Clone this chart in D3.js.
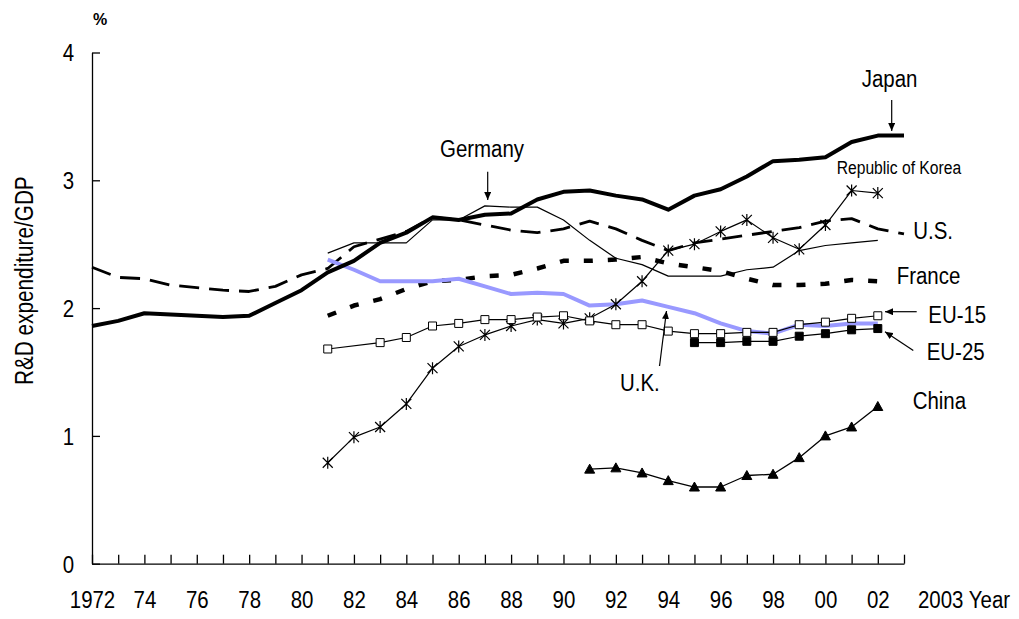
<!DOCTYPE html>
<html>
<head>
<meta charset="utf-8">
<script src="https://cdn.jsdelivr.net/npm/d3@7"></script>
<style>
  body { margin: 0; background: #fff; }
  svg { display: block; }
  text { font-family: "Liberation Sans", Arial, sans-serif; fill: #000; }
</style>
</head>
<body>
<svg width="1019" height="619"></svg>
<script>

// categories
var years = d3.range(1972, 2004);
var xLabels = ["1972", "74", "76", "78", "80", "82", "84", "86", "88", "90", "92", "94", "96", "98", "00", "02"];
var yTicks = [0, 1, 2, 3, 4];

// R&D expenditure / GDP (%)
var japan = [1.86, 1.90, 1.96, 1.95, 1.94, 1.93, 1.94, 2.04, 2.14, 2.28, 2.37, 2.51, 2.59, 2.71, 2.69, 2.73,
             2.74, 2.85, 2.91, 2.92, 2.88, 2.85, 2.77, 2.88, 2.93, 3.03, 3.15, 3.16, 3.18, 3.30, 3.35, 3.35];
var us = [2.32, 2.24, 2.23, 2.18, 2.16, 2.14, 2.13, 2.17, 2.26, 2.31, 2.48, 2.54, 2.60, 2.71, 2.69, 2.65,
          2.61, 2.59, 2.62, 2.68, 2.62, 2.53, 2.45, 2.51, 2.54, 2.57, 2.60, 2.63, 2.68, 2.70, 2.62, 2.58];
// from 1981
var germany = [2.43, 2.51, 2.51, 2.51, 2.69, 2.69, 2.80, 2.79, 2.79, 2.69, 2.53, 2.39, 2.34, 2.25, 2.25,
               2.25, 2.30, 2.32, 2.45, 2.49, 2.51, 2.53];
var france = [1.94, 2.02, 2.07, 2.15, 2.21, 2.22, 2.25, 2.26, 2.31, 2.37, 2.37, 2.38, 2.40, 2.35, 2.32,
              2.29, 2.23, 2.18, 2.18, 2.19, 2.22, 2.21];
var uk = [2.38, 2.30, 2.21, 2.21, 2.21, 2.23, 2.17, 2.11, 2.12, 2.11, 2.02, 2.03, 2.06, 2.01, 1.96,
          1.88, 1.82, 1.80, 1.87, 1.86, 1.88, 1.88];
var eu15 = [1.68, null, 1.73, 1.77, 1.86, 1.88, 1.91, 1.91, 1.93, 1.94, 1.90, 1.87, 1.87, 1.82, 1.80,
            1.80, 1.81, 1.81, 1.87, 1.89, 1.92, 1.94];
var korea = [0.79, 0.99, 1.07, 1.25, 1.53, 1.70, 1.79, 1.86, 1.91, 1.88, 1.92, 2.03, 2.21, 2.45, 2.50,
             2.60, 2.69, 2.55, 2.46, 2.65, 2.92, 2.90];
// from 1995
var eu25 = [1.73, 1.73, 1.74, 1.74, 1.78, 1.80, 1.83, 1.84];
// from 1991
var china = [0.74, 0.75, 0.71, 0.65, 0.60, 0.60, 0.69, 0.70, 0.83, 1.00, 1.07, 1.23];

var svg = d3.select("svg");

var x = d3.scaleLinear().domain([1972, 2003]).range([92, 904]);
var y = d3.scaleLinear().domain([0, 4]).range([563.7, 52.5]);

// arrow head
svg.append("defs").append("marker")
    .attr("id", "head")
    .attr("markerUnits", "userSpaceOnUse")
    .attr("markerWidth", 9)
    .attr("markerHeight", 7)
    .attr("refX", 8)
    .attr("refY", 3.5)
    .attr("orient", "auto")
  .append("path")
    .attr("d", "M0,0 L8,3.5 L0,7 Z")
    .attr("fill", "#000");

// helper for the narrow looking labels
function label(px, py, str, size, anchor) {
  return svg.append("text")
    .attr("transform", "translate(" + px + "," + py + ") scale(0.87,1)")
    .attr("font-size", size)
    .attr("text-anchor", anchor || "start")
    .text(str);
}

// x axis
var xAxis = svg.append("g")
    .attr("transform", "translate(0," + y(0) + ")")
    .call(d3.axisBottom(x)
      .tickValues(years)
      .tickSize(-9)
      .tickSizeOuter(0)
      .tickFormat(function(d) {
        var i = (d - 1972) / 2;
        return (d % 2 == 0 && xLabels[i]) ? xLabels[i] : "";
      }));

xAxis.selectAll("text")
    .attr("y", null)
    .attr("dy", null)
    .attr("font-size", 23.5)
    .attr("transform", "translate(0,44.5) scale(0.87,1)");

// y axis
var yAxis = svg.append("g")
    .attr("transform", "translate(" + x(1972) + ",0)")
    .call(d3.axisLeft(y)
      .tickValues(yTicks)
      .tickSize(-8)
      .tickSizeOuter(0)
      .tickFormat(d3.format("d")));

yAxis.selectAll("text")
    .attr("x", null)
    .attr("dy", null)
    .attr("font-size", 23.5)
    .attr("text-anchor", "end")
    .attr("transform", "translate(-18,8.4) scale(0.87,1)");

svg.selectAll(".domain, .tick line")
    .attr("stroke", "#000")
    .attr("stroke-width", 1.3);

// axis texts
label(918, 607.5, "2003 Year", 23.5);
svg.append("text")
    .attr("x", 93)
    .attr("y", 25)
    .attr("font-size", 16)
    .attr("font-weight", "bold")
    .text("%");
svg.append("text")
    .attr("transform", "translate(33,385) rotate(-90) scale(0.83,1)")
    .attr("font-size", 25)
    .text("R&D expenditure/GDP");

// series table
function points(values, from) {
  return values.map(function(v, i) { return {year: from + i, v: v}; })
    .filter(function(d) { return d.v != null; });
}

var series = [
  {name: "Germany", data: points(germany, 1981), color: "#000", width: 1.2, dash: null},
  {name: "U.S.", data: points(us, 1972), color: "#000", width: 2.8, dash: "20,10"},
  {name: "France", data: points(france, 1981), color: "#000", width: 4.5, dash: "9,15"},
  {name: "U.K.", data: points(uk, 1981), color: "#9999ff", width: 4, dash: null},
  {name: "Japan", data: points(japan, 1972), color: "#000", width: 4, dash: null},
  {name: "Republic of Korea", data: points(korea, 1981), color: "#000", width: 1.2, dash: null, marker: "star"},
  {name: "EU-15", data: points(eu15, 1981), color: "#000", width: 1.2, dash: null, marker: "open"},
  {name: "EU-25", data: points(eu25, 1995), color: "#000", width: 1.2, dash: null, marker: "filled"},
  {name: "China", data: points(china, 1991), color: "#000", width: 1.3, dash: null, marker: "triangle"}
];

var line = d3.line()
    .x(function(d) { return x(d.year); })
    .y(function(d) { return y(d.v); });

var markerPath = {
  star: "M-5,-5L5,5M-5,5L5,-5M0,-6L0,6",
  open: "M-4,-4H4V4H-4Z",
  filled: "M-4,-4H4V4H-4Z",
  triangle: "M0,-5L5,4H-5Z"
};

series.forEach(function(s) {
  svg.append("path")
    .datum(s.data)
    .attr("fill", "none")
    .attr("stroke", s.color)
    .attr("stroke-width", s.width)
    .attr("stroke-dasharray", s.dash)
    .attr("stroke-linejoin", "round")
    .attr("d", line);

  if (s.marker) {
    svg.selectAll(null)
      .data(s.data)
      .enter()
      .append("path")
        .attr("transform", function(d) { return "translate(" + x(d.year) + "," + y(d.v) + ")"; })
        .attr("d", markerPath[s.marker])
        .attr("fill", s.marker == "open" ? "#fff" : (s.marker == "star" ? "none" : "#000"))
        .attr("stroke", "#000")
        .attr("stroke-width", s.marker == "star" ? 1.2 : 1);
  }
});

// annotations
function arrow(x1, y1, x2, y2) {
  svg.append("line")
    .attr("x1", x1).attr("y1", y1)
    .attr("x2", x2).attr("y2", y2)
    .attr("stroke", "#000")
    .attr("stroke-width", 1.2)
    .attr("marker-end", "url(#head)");
}

label(861.7, 86.7, "Japan", 23.5);
arrow(891.7, 100, 891.7, 131);

label(440, 157.3, "Germany", 23.5);
arrow(487.7, 171.7, 487.7, 200);

label(836.7, 174, "Republic of Korea", 18);
label(913.3, 239.3, "U.S.", 23.5);
label(896.7, 284.3, "France", 23.5);

label(928.3, 322.7, "EU-15", 23.5);
arrow(916.7, 311.7, 885, 311.7);

label(926.7, 360, "EU-25", 23.5);
arrow(913.3, 350.5, 885, 331.7);

label(912.7, 409.3, "China", 23.5);

label(620, 390.7, "U.K.", 23.5);
arrow(659.5, 366, 666.5, 311);

</script>
</body>
</html>
